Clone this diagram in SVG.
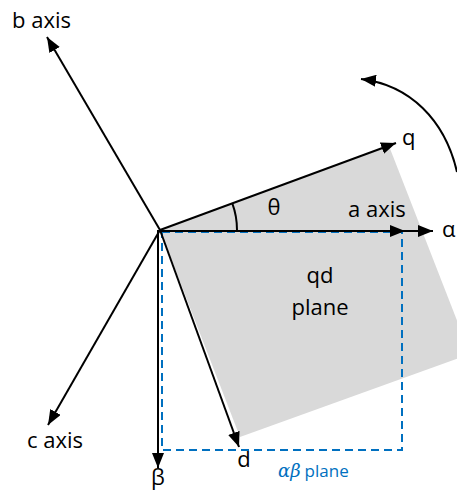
<svg xmlns="http://www.w3.org/2000/svg" width="457" height="491" viewBox="0 0 457 491">
<style>
.ax{stroke:#000;stroke-width:2;fill:none;marker-end:url(#ah)}
.t{font-family:"Open Sans","Liberation Sans",sans-serif;font-size:22px;fill:#000}
.b{font-family:"Open Sans","Liberation Sans",sans-serif;font-size:17px;fill:#0070C0}
.g{font-family:"DejaVu Serif","Liberation Serif",serif;font-style:italic;font-size:18px;fill:#0070C0}
</style>
<defs>
<marker id="ah" markerUnits="userSpaceOnUse" markerWidth="15" markerHeight="12" refX="15" refY="6" orient="auto">
<path d="M0,0 L15,6 L0,12 z" fill="#000"/>
</marker>
</defs>
<g id="qd-plane">
<polygon points="160,230 389,146 470,354 240,437" fill="#d9d9d9"/>
</g>
<g id="ab-plane">
<rect x="162" y="232" width="240" height="218" fill="none" stroke="#0070C0" stroke-width="2" stroke-dasharray="8,5"/>
</g>
<g id="connectors">
<line class="ax" x1="160" y1="230" x2="47" y2="37"/>
<line class="ax" x1="160" y1="230" x2="48" y2="425"/>
<line class="ax" x1="158" y1="230" x2="158" y2="468"/>
<line class="ax" x1="160" y1="230" x2="239" y2="447"/>
<line class="ax" x1="160" y1="230" x2="396" y2="143"/>
<line class="ax" x1="160" y1="231" x2="405" y2="231"/>
<line class="ax" x1="403" y1="231" x2="433" y2="231"/>
<path d="M237,230 A77,77 0 0 0 232.3,203.4" stroke="#000" stroke-width="2" fill="none"/>
<path class="ax" d="M457,172 C445,120 410,85 361,79"/>
</g>
<g id="labels">
<text class="t" x="12" y="28">b axis</text>
<text class="t" x="402" y="145">q</text>
<text class="t" x="274" y="215" text-anchor="middle">θ</text>
<text class="t" x="348" y="217">a axis</text>
<text class="t" x="442" y="237">α</text>
<text class="t" x="320" y="283" text-anchor="middle">qd</text>
<text class="t" x="320" y="315" text-anchor="middle">plane</text>
<text class="t" x="27" y="448">c axis</text>
<text class="t" x="158" y="485" text-anchor="middle">β</text>
<text class="t" x="244" y="467" text-anchor="middle">d</text>
<text x="278" y="477"><tspan class="g">αβ</tspan><tspan class="b" dx="4">plane</tspan></text>
</g>
</svg>
